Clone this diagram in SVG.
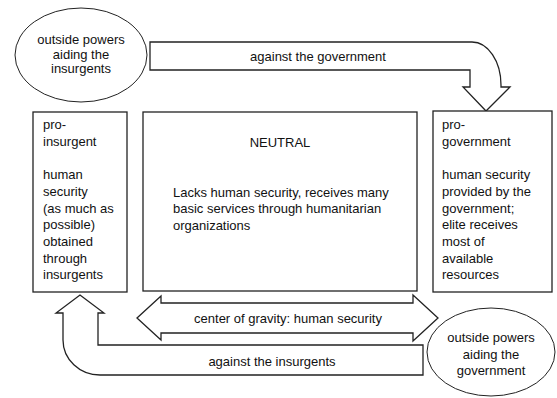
<svg xmlns="http://www.w3.org/2000/svg" width="557" height="398" viewBox="0 0 557 398">
<style>
.s{fill:#fff;stroke:#222;stroke-width:1.3}
.e{fill:#fff;stroke:#222;stroke-width:1}
text{font-family:"Liberation Sans",Arial,sans-serif;font-size:13px;fill:#111}
.c{text-anchor:middle}
</style>
<rect width="557" height="398" fill="#fff"/>
<g id="connectors">
<g id="arrow-top">
<path class="s" d="M150,42 H472 A29,43 0 0 1 501,85 V87 H510 L486,111 L463,87 H470 V70 H150 Z"/>
<text class="c" x="318" y="61">against the government</text>
</g>
<g id="arrow-bottom">
<path class="s" d="M423,345 H98 V313 H104 L80,295 L56,313 H63 V340 A37,35 0 0 0 100,375 H423 Z"/>
<text class="c" x="272" y="366">against the insurgents</text>
</g>
<g id="arrow-center">
<path class="s" d="M137,318 L161,296 V303 H413 V295 L438,318 L413,341 V333 H161 V340 Z"/>
<text class="c" x="288" y="323">center of gravity: human security</text>
</g>
</g>
<g id="ellipse-insurgents">
<ellipse class="e" cx="81" cy="55" rx="66" ry="47"/>
<text class="c" x="81" y="44">outside powers</text>
<text class="c" x="81" y="58.5">aiding the</text>
<text class="c" x="81" y="73">insurgents</text>
</g>
<g id="ellipse-government">
<ellipse class="e" cx="491" cy="352" rx="64" ry="44"/>
<text class="c" x="491" y="342">outside powers</text>
<text class="c" x="491" y="359">aiding the</text>
<text class="c" x="491" y="375">government</text>
</g>
<g id="box-insurgent">
<rect class="s" x="33" y="112" width="94" height="180"/>
<text x="43" y="129">pro-</text>
<text x="43" y="146">insurgent</text>
<text x="43" y="179">human</text>
<text x="43" y="196">security</text>
<text x="43" y="213">(as much as</text>
<text x="43" y="229">possible)</text>
<text x="43" y="246">obtained</text>
<text x="43" y="263">through</text>
<text x="43" y="279">insurgents</text>
</g>
<g id="box-neutral">
<rect class="s" x="143" y="112" width="274" height="179"/>
<text class="c" x="280" y="147">NEUTRAL</text>
<text x="173" y="197">Lacks human security, receives many</text>
<text x="173" y="213">basic services through humanitarian</text>
<text x="173" y="230">organizations</text>
</g>
<g id="box-government">
<rect class="s" x="433" y="111" width="119" height="181"/>
<text x="442" y="129">pro-</text>
<text x="442" y="146">government</text>
<text x="442" y="179">human security</text>
<text x="442" y="196">provided by the</text>
<text x="442" y="213">government;</text>
<text x="442" y="229">elite receives</text>
<text x="442" y="246">most of</text>
<text x="442" y="263">available</text>
<text x="442" y="279">resources</text>
</g>
</svg>
